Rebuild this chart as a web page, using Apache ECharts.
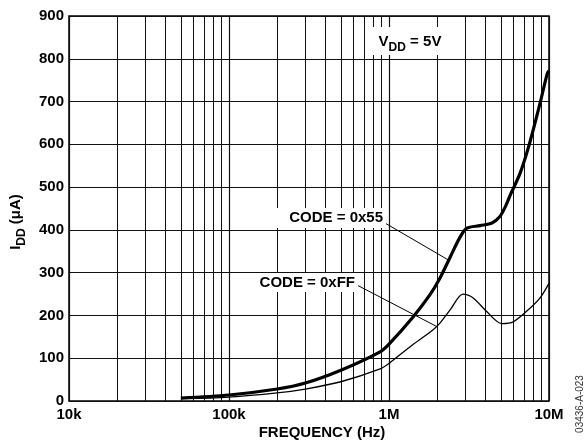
<!DOCTYPE html>
<html><head><meta charset="utf-8">
<script src="https://cdn.jsdelivr.net/npm/echarts/dist/echarts.min.js"></script>
<style>html,body{margin:0;padding:0;background:#fff}#c{width:588px;height:446px}</style>
</head><body><div id="c"></div>
<script>
// Data
const freq55 = [50e3, 100e3, 200e3, 300e3, 500e3, 880e3, 1e6, 1.41e6, 1.8e6, 2.08e6, 2.41e6, 2.78e6, 3.07e6, 3.71e6, 4.4e6, 4.9e6, 5.3e6, 5.75e6, 6.59e6, 7.53e6, 8.79e6, 9.76e6, 10e6];
const idd55  = [7, 14, 28, 42, 72, 115, 133, 196, 248, 287, 336, 383, 404, 410, 416, 430, 452, 483, 532, 600, 696, 766, 772];
const freqFF = [50e3, 100e3, 200e3, 300e3, 500e3, 880e3, 1e6, 1.4e6, 1.88e6, 2.08e6, 2.41e6, 2.9e6, 3.36e6, 4.08e6, 5.06e6, 5.98e6, 7.61e6, 8.79e6, 10e6];
const iddFF  = [5, 9, 19, 28, 45, 75, 88, 131, 166, 182, 213, 250, 241, 209, 181, 185, 217, 241, 275];
const xTickLabels = ['10k', '100k', '1M', '10M'];
const minorGrid = [2e4,3e4,4e4,5e4,6e4,7e4,8e4,9e4, 2e5,3e5,4e5,5e5,6e5,7e5,8e5,9e5, 2e6,3e6,4e6,5e6,6e6,7e6,8e6,9e6];
const leader55 = [[944e3, 416], [2.34e6, 330]];
const leaderFF = [[631e3, 271], [1.99e6, 174]];

const FONT = '"Liberation Sans", Arial, sans-serif';
const chart = echarts.init(document.getElementById('c'), null, {renderer: 'canvas'});
const pairs = (xs, ys) => xs.map((x, i) => [x, ys[i]]);

function txt(x, y, text, extra, rotation) {
  return {
    type: 'text', x, y, z: 110, rotation: rotation || 0,
    style: Object.assign({
      text, fill: '#000', font: 'bold 15px ' + FONT,
      textAlign: 'center', align: 'center',
      textVerticalAlign: 'middle', verticalAlign: 'middle'
    }, extra || {})
  };
}
const subRich = {
  b: {fontWeight: 'bold', fontSize: 15, fontFamily: FONT, lineHeight: 24, verticalAlign: 'middle'},
  s: {fontWeight: 'bold', fontSize: 12, fontFamily: FONT, lineHeight: 12, verticalAlign: 'bottom'}
};

const option = {
  animation: false,
  backgroundColor: '#fff',
  grid: {left: 69, right: 39, top: 16, bottom: 45, show: true, borderColor: '#000', borderWidth: 1.5, backgroundColor: 'transparent'},
  xAxis: {
    type: 'log', logBase: 10, min: 1e4, max: 1e7,
    axisLine: {show: false}, axisTick: {show: false},
    splitLine: {show: true, lineStyle: {color: '#111', width: 1.2}},
    axisLabel: {
      color: '#000', fontWeight: 'bold', fontSize: 15, fontFamily: FONT, margin: 6,
      formatter: v => xTickLabels[Math.round(Math.log10(v)) - 4]
    }
  },
  yAxis: {
    type: 'value', min: 0, max: 900, interval: 100,
    axisLine: {show: false}, axisTick: {show: false},
    splitLine: {show: true, lineStyle: {color: '#111', width: 1}},
    axisLabel: {color: '#000', fontWeight: 'bold', fontSize: 15, fontFamily: FONT, margin: 5}
  },
  series: [
    {
      type: 'line', name: 'grid', data: [], silent: true,
      markLine: {
        silent: true, symbol: ['none', 'none'], label: {show: false},
        lineStyle: {color: '#111', width: 1, type: 'solid'},
        data: minorGrid.map(f => ({xAxis: f}))
      }
    },
    {
      type: 'line', name: 'CODE = 0xFF', data: pairs(freqFF, iddFF),
      showSymbol: false, smooth: 0.3, z: 5,
      lineStyle: {color: '#000', width: 1.3},
      markLine: {
        silent: true, symbol: ['none', 'none'], label: {show: false},
        lineStyle: {color: '#000', width: 1, type: 'solid'},
        data: [[{coord: leaderFF[0]}, {coord: leaderFF[1]}]]
      }
    },
    {
      type: 'line', name: 'CODE = 0x55', data: pairs(freq55, idd55),
      showSymbol: false, smooth: 0.3, z: 6,
      lineStyle: {color: '#000', width: 3.2},
      markLine: {
        silent: true, symbol: ['none', 'none'], label: {show: false},
        lineStyle: {color: '#000', width: 1, type: 'solid'},
        data: [[{coord: leader55[0]}, {coord: leader55[1]}]]
      }
    }
  ],
  graphic: [
    {type: 'rect', z: 100, shape: {x: 234, y: 208, width: 152, height: 20}, style: {fill: '#fff'}},
    {type: 'rect', z: 100, shape: {x: 240, y: 273, width: 118, height: 19}, style: {fill: '#fff'}},
    {type: 'rect', z: 100, shape: {x: 372, y: 27, width: 74, height: 28}, style: {fill: '#fff'}},
    txt(383, 218, 'CODE = 0x55', {textAlign: 'right', align: 'right'}),
    txt(355, 283, 'CODE = 0xFF', {textAlign: 'right', align: 'right'}),
    txt(410, 42, '{b|V}{s|DD}{b| = 5V}', {rich: subRich}),
    txt(16, 222, '{b|I}{s|DD}{b| (μA)}', {rich: subRich}, Math.PI / 2),
    txt(322, 433, 'FREQUENCY (Hz)'),
    txt(580, 404, '03436-A-023', {font: '10px ' + FONT, fill: '#333'}, Math.PI / 2)
  ]
};
chart.setOption(option);
</script>
</body></html>
